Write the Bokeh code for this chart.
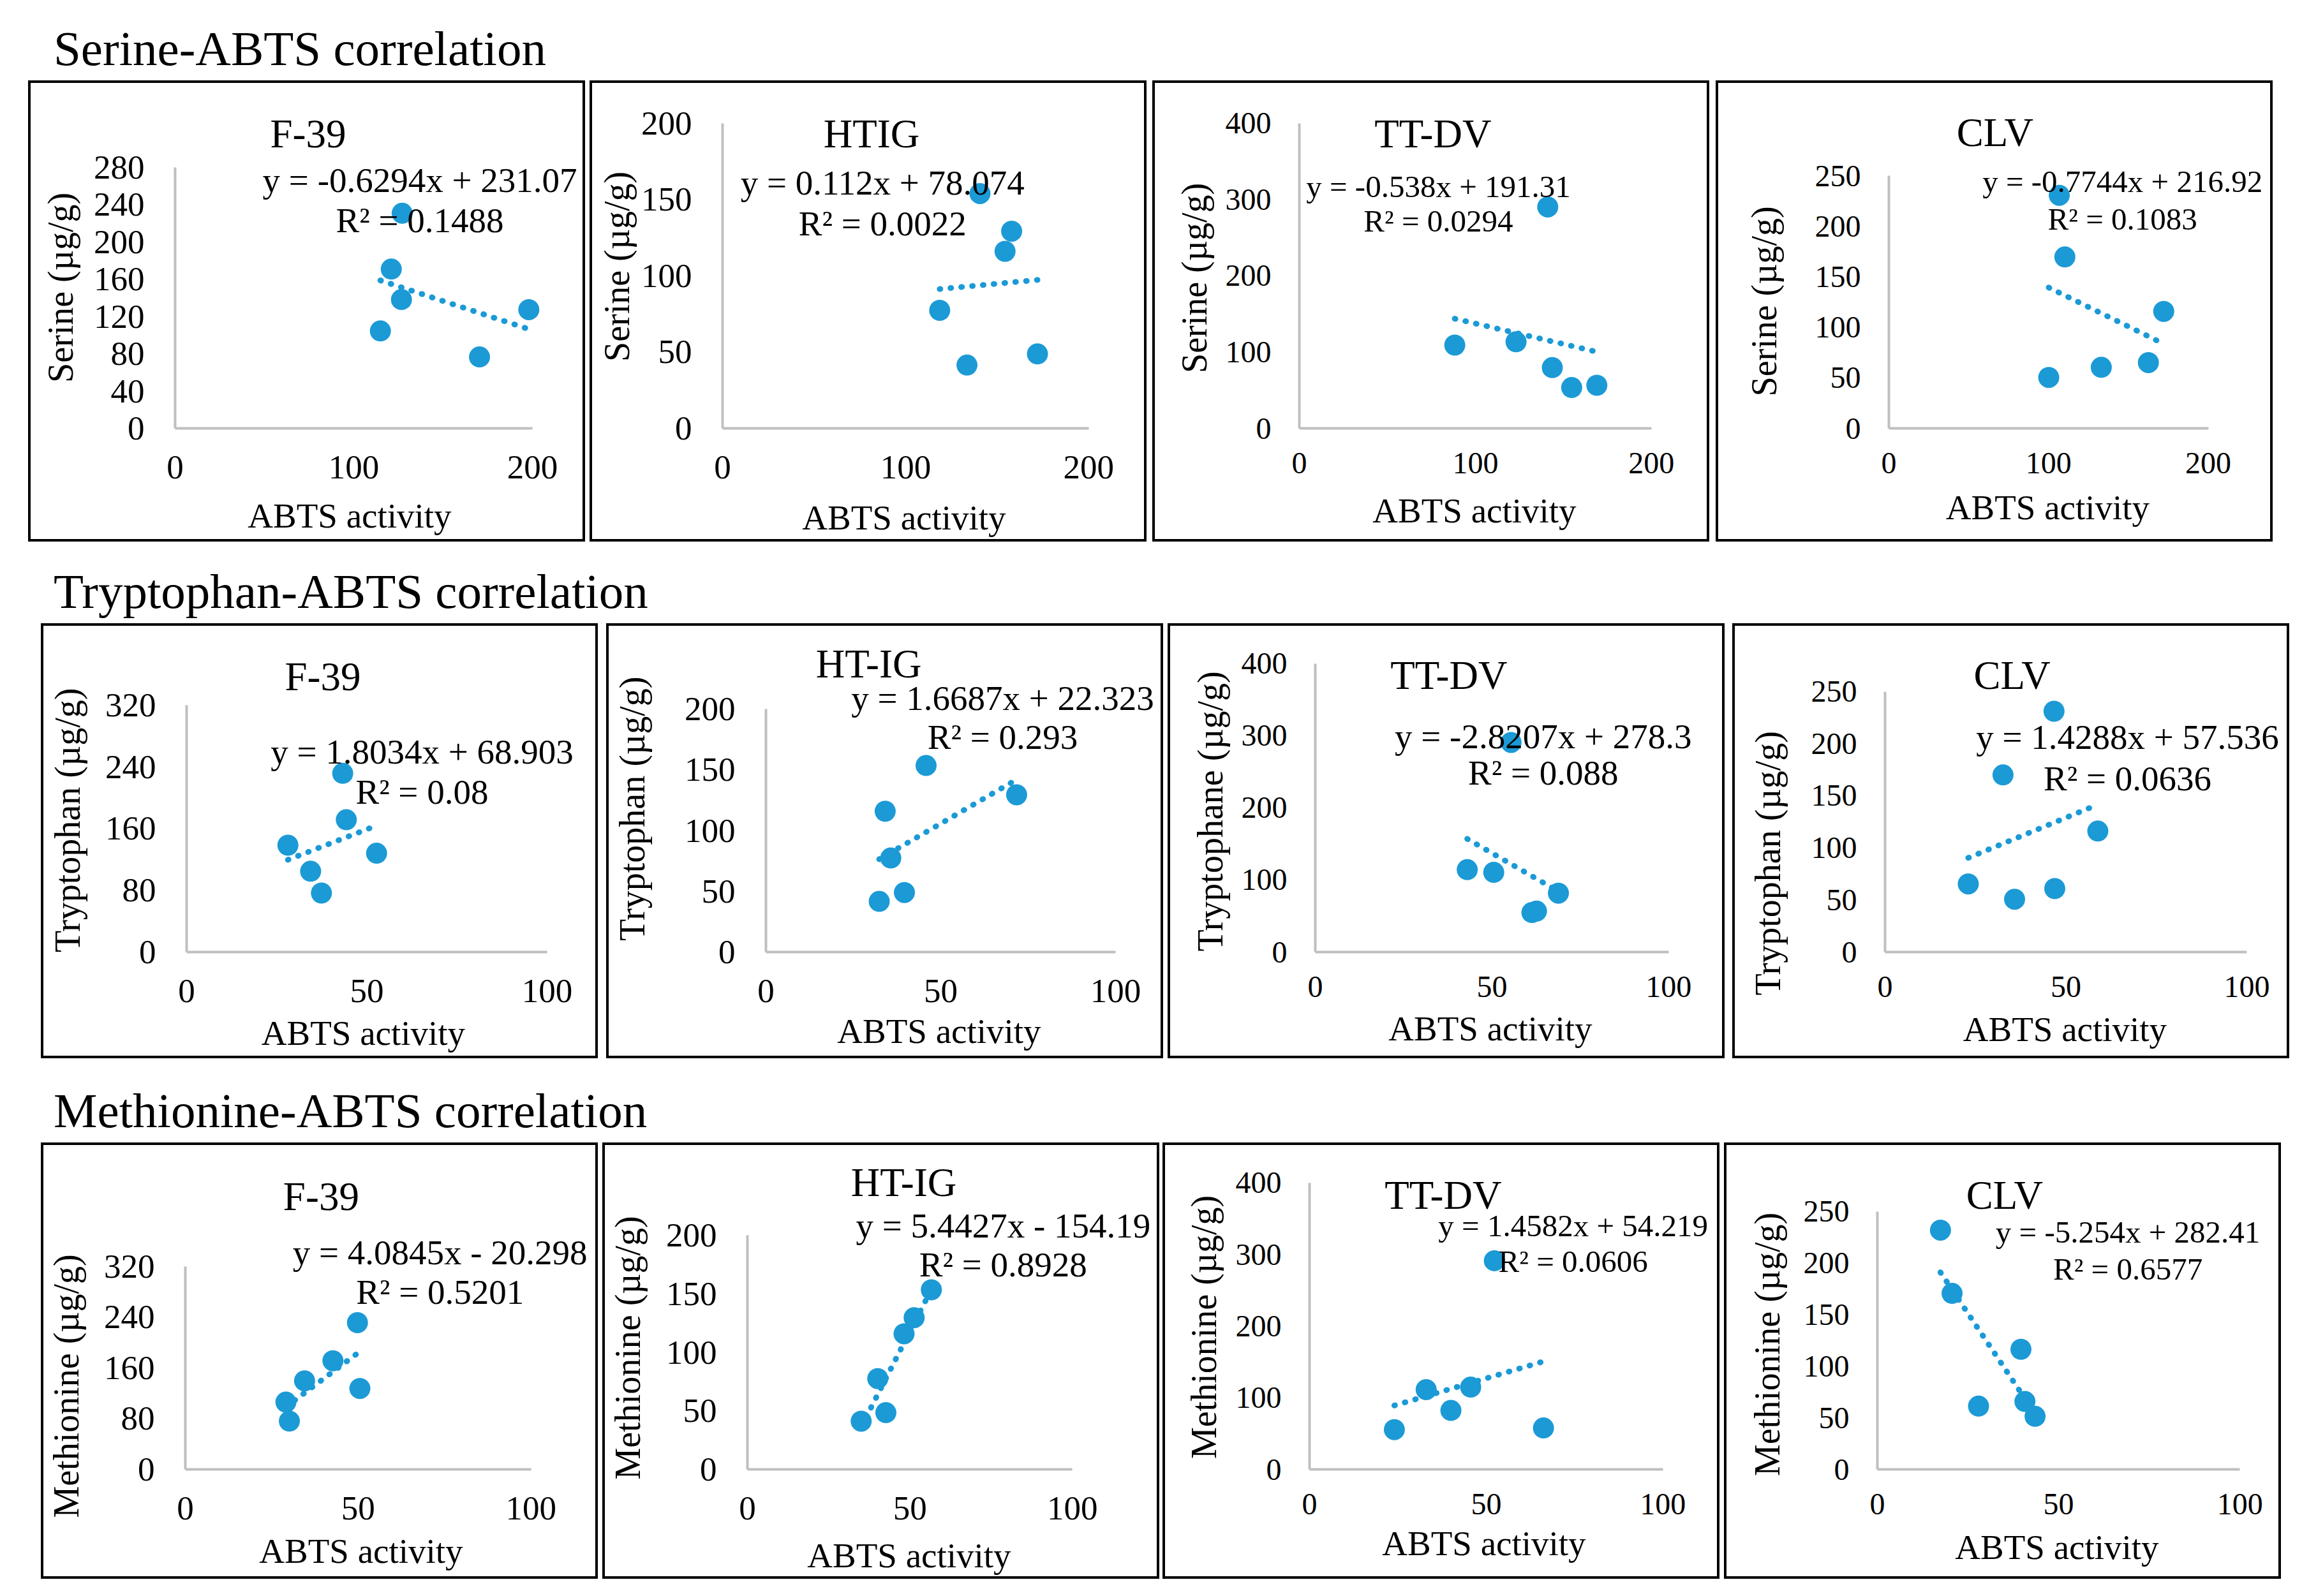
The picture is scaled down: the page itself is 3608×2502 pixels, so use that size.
from bokeh.plotting import figure
from bokeh.models import Range1d, FixedTicker, Label, Div, ColumnDataSource, Title
from bokeh.layouts import row, column
from bokeh.embed import file_html
from bokeh.resources import INLINE

FONT = "Liberation Serif"
BLUE = "#1B9AD6"
GREY = "#BFBFBF"

# ---------------- texts ----------------
row_titles = ["Serine-ABTS correlation", "Tryptophan-ABTS correlation", "Methionine-ABTS correlation"]
titles_row1 = ["F-39", "HTIG", "TT-DV", "CLV"]
titles_row23 = ["F-39", "HT-IG", "TT-DV", "CLV"]
x_title = "ABTS activity"
y_titles_row1 = ["Serine (µg/g)"] * 4
y_titles_row2 = ["Tryptophan (µg/g)", "Tryptophan (µg/g)", "Tryptophane (µg/g)", "Tryptophan (µg/g)"]
y_titles_row3 = ["Methionine (µg/g)"] * 4

# ---------------- Serine vs ABTS ----------------
ser_f39_abts = [127.1, 121.0, 126.7, 114.9, 170.4, 198.0]
ser_f39 = [230.8, 170.9, 138.2, 104.5, 76.6, 127.4]
ser_htig_abts = [140.6, 157.9, 154.3, 118.6, 133.5, 172.0]
ser_htig = [154.0, 129.3, 116.1, 77.4, 41.5, 48.8]
ser_ttdv_abts = [141.1, 88.3, 123.1, 143.7, 154.7, 169.0]
ser_ttdv = [290.4, 109.2, 113.5, 79.6, 53.5, 56.5]
ser_clv_abts = [106.7, 110.2, 100.1, 133.0, 162.5, 172.1]
ser_clv = [230.7, 169.7, 50.4, 60.4, 65.1, 115.8]

# ---------------- Tryptophan vs ABTS ----------------
trp_f39_abts = [43.3, 44.3, 28.1, 52.7, 34.4, 37.4]
trp_f39 = [231.6, 171.5, 138.5, 128.1, 104.7, 76.5]
trp_htig_abts = [45.8, 34.1, 71.7, 35.7, 39.6, 32.4]
trp_htig = [153.5, 115.9, 129.4, 77.4, 49.0, 41.7]
trp_ttdv_abts = [55.4, 43.0, 50.5, 68.8, 61.3, 62.6]
trp_ttdv = [290.7, 114.3, 110.5, 81.7, 54.8, 56.8]
trp_clv_abts = [46.7, 32.6, 58.8, 23.0, 35.8, 46.9]
trp_clv = [231.1, 170.0, 116.1, 65.4, 50.7, 60.9]

# ---------------- Methionine vs ABTS ----------------
met_f39_abts = [49.8, 42.7, 34.5, 50.5, 29.1, 30.1]
met_f39 = [231.4, 171.4, 139.7, 127.6, 106.1, 76.1]
met_htig_abts = [56.6, 51.3, 48.2, 40.1, 42.6, 35.0]
met_htig = [153.5, 129.7, 115.9, 77.6, 48.5, 41.2]
met_ttdv_abts = [52.3, 33.0, 45.6, 40.0, 24.0, 66.2]
met_ttdv = [291.3, 111.4, 114.8, 82.3, 55.5, 57.8]
met_clv_abts = [17.4, 20.6, 39.6, 40.7, 43.5, 27.9]
met_clv = [231.9, 170.6, 116.4, 65.8, 51.4, 61.3]

# ---------------- trendlines (as printed) ----------------
ser_slopes = [-0.6294, 0.112, -0.538, -0.7744]
ser_intercepts = [231.07, 78.074, 191.31, 216.92]
ser_r2 = ["0.1488", "0.0022", "0.0294", "0.1083"]
trp_slopes = [1.8034, 1.6687, -2.8207, 1.4288]
trp_intercepts = [68.903, 22.323, 278.3, 57.536]
trp_r2 = ["0.08", "0.293", "0.088", "0.0636"]
met_slopes = [4.0845, 5.4427, 1.4582, -5.254]
met_intercepts = [-20.298, -154.19, 54.219, 282.41]
met_r2 = ["0.5201", "0.8928", "0.0606", "0.6577"]

# ---------------- axis ticks ----------------
x_ticks_row1 = [0, 100, 200]
x_ticks_row23 = [0, 50, 100]
y_ticks_ser = [[0, 40, 80, 120, 160, 200, 240, 280], [0, 50, 100, 150, 200],
               [0, 100, 200, 300, 400], [0, 50, 100, 150, 200, 250]]
y_ticks_trp = [[0, 80, 160, 240, 320], [0, 50, 100, 150, 200],
               [0, 100, 200, 300, 400], [0, 50, 100, 150, 200, 250]]
y_ticks_met = [[0, 80, 160, 240, 320], [0, 50, 100, 150, 200],
               [0, 100, 200, 300, 400], [0, 50, 100, 150, 200, 250]]

# ---------------- layout ----------------
# l, r, t: canvas px offsets of the axes box (bottom border is shared per row)
# ys/xs: title gaps; dy/dx: title shifts; tfs: tick font px, efs: equation font px
# title(x,y) and eq(x, y1, y2) anchors in data units
lay = [
    [dict(l=226, r=86, t=130, ys=18, xs=25, dy=17, dx=-3, tfs=53, efs=55, tp=(74.5, 315.6), ep=(137, 266.5, 223)),
     dict(l=204, r=94, t=62, ys=4, xs=28, dy=16, dx=1, tfs=53, efs=55, tp=(81.4, 192.9), ep=(87.4, 160.9, 134.3)),
     dict(l=226, r=94, t=62, ys=15, xs=25, dy=-2, dx=2, tfs=48, efs=49, tp=(75.9, 386), ep=(79, 316.9, 271.9)),
     dict(l=267, r=104, t=143, ys=46, xs=20, dy=2, dx=2, tfs=48, efs=49, tp=(66.5, 292.6), ep=(146.3, 244.4, 207.3))],
    [dict(l=224, r=83, t=122, ys=25, xs=15, dy=15, dx=-2, tfs=53, efs=55, tp=(37.8, 357), ep=(65.3, 259.5, 207.9)),
     dict(l=246, r=78, t=128, ys=48, xs=12, dy=36, dx=1, tfs=53, efs=55, tp=(29.4, 236.9), ep=(67.7, 209.1, 177)),
     dict(l=227, r=91, t=58, ys=15, xs=16, dy=-3, dx=1, tfs=48, efs=55, tp=(37.8, 383.5), ep=(64.5, 299.1, 248.5)),
     dict(l=235, r=70, t=101, ys=34, xs=17, dy=-63, dx=2, tfs=48, efs=55, tp=(35.1, 265.5), ep=(67, 206.3, 166.3))],
    [dict(l=222, r=108, t=187, ys=25, xs=16, dy=-28, dx=8, tfs=53, efs=55, tp=(39.3, 430.6), ep=(73.7, 342.4, 279.8)),
     dict(l=223, r=139, t=139, ys=26, xs=23, dy=8, dx=2, tfs=53, efs=55, tp=(48.1, 245.3), ep=(78.7, 208.5, 175)),
     dict(l=226, r=92, t=58, ys=16, xs=12, dy=0, dx=0, tfs=48, efs=49, tp=(37.8, 382.8), ep=(74.6, 339.9, 290.1)),
     dict(l=236, r=68, t=102, ys=23, xs=18, dy=-5, dx=1, tfs=48, efs=49, tp=(35.1, 265.5), ep=(69.1, 229.7, 194.4))],
]
row_heights = [723, 682, 684]
row_bottom = [182, 171, 176]          # frames in one row share their bottom border
row_first_left = [44, 64, 64]
row_gaps = [[0, 7, 9, 10], [0, 13, 7, 12], [0, 7, 5, 7]]
BOX_W = 873
BW = 4
XT_FS, YT_FS = 55, 56

# Times/Liberation Serif advance widths (em) for centring the axis titles
EM = {" ": .25, "(": .333, ")": .333, "/": .278, "µ": .5, "A": .722, "B": .667, "T": .611, "S": .556,
      "M": .889, "a": .444, "c": .444, "e": .444, "g": .5, "h": .5, "i": .278, "n": .5, "o": .5,
      "p": .5, "r": .333, "t": .278, "v": .5, "y": .5}


def text_w(s, fs):
    return sum(EM.get(c, .5) for c in s) * fs


def eq_text(s, b):
    sign = "+" if b >= 0 else "-"
    return f"y = {s}x {sign} {abs(b)}"


def gap(size):
    # blank spacer between an axis and its title (a single space drawn in white)
    return Title(text=" ", text_font_size="1px", standoff=max(size - 3, 0),
                 text_color="white", text_font=FONT)


def make_panel(xs, ys, slope, intercept, r2, title, ytitle, xticks, yticks, L, box_h, b, left_margin):
    l, r, t = L["l"], L["r"], L["t"]
    cw, ch = BOX_W - 2 * BW, box_h - 2 * BW
    xmax, ymax = xticks[-1], yticks[-1]
    aw, ah = cw - l - r, ch - t - b
    sx, sy = aw / xmax, ah / ymax
    p = figure(width=BOX_W, height=box_h,
               x_range=Range1d(0, xmax + r / sx), y_range=Range1d(0, ymax + t / sy),
               output_backend="svg", toolbar_location=None,
               min_border_left=l, min_border_right=0, min_border_top=0, min_border_bottom=b,
               background_fill_color="white", border_fill_color="white",
               margin=(0, 0, 0, left_margin),
               styles={"border": f"{BW}px solid black"})
    p.grid.visible = False
    p.outline_line_color = None
    p.xaxis.ticker = FixedTicker(ticks=xticks)
    p.yaxis.ticker = FixedTicker(ticks=yticks)
    p.xaxis.bounds = (0, xmax)
    p.yaxis.bounds = (0, ymax)
    for ax in (p.xaxis[0], p.yaxis[0]):
        ax.axis_line_color = GREY
        ax.axis_line_width = 4
        ax.major_tick_line_color = None
        ax.minor_tick_line_color = None
        ax.major_tick_in = 0
        ax.major_tick_out = 0
        ax.major_label_text_font = FONT
        ax.major_label_text_font_size = f"{L['tfs']}px"
        ax.major_label_text_color = "black"
    big = L["tfs"] > 50
    p.xaxis.major_label_standoff = 43 if big else 38
    p.yaxis.major_label_standoff = 48 if big else 44

    # axis titles, centred on the drawn axis line (not on the whole frame)
    p.add_layout(gap(L["xs"]), "below")
    p.add_layout(Title(text=x_title, align="left", vertical_align="top",
                       offset=(aw - text_w(x_title, XT_FS)) / 2 + L["dx"], standoff=0,
                       text_font=FONT, text_font_size=f"{XT_FS}px", text_font_style="normal",
                       text_color="black"), "below")
    p.add_layout(gap(L["ys"]), "left")
    p.add_layout(Title(text=ytitle, align="left", vertical_align="bottom",
                       offset=(ah - text_w(ytitle, YT_FS)) / 2 + L["dy"], standoff=0,
                       text_font=FONT, text_font_size=f"{YT_FS}px", text_font_style="normal",
                       text_color="black"), "left")

    src = ColumnDataSource(dict(x=xs, y=ys))
    x0, x1 = min(xs), max(xs)
    p.line([x0, x1], [slope * x0 + intercept, slope * x1 + intercept],
           line_color=BLUE, line_width=9, line_dash="1 16", line_cap="round")
    p.scatter("x", "y", source=src, size=33, fill_color=BLUE, line_color=None)

    tp, ep = L["tp"], L["ep"]
    p.add_layout(Label(x=tp[0], y=tp[1], text=title, text_font=FONT, text_font_size="63px",
                       text_align="center", text_baseline="middle", text_color="black"))
    p.add_layout(Label(x=ep[0], y=ep[1], text=eq_text(slope, intercept), text_font=FONT,
                       text_font_size=f"{L['efs']}px", text_align="center", text_baseline="middle",
                       text_color="black"))
    p.add_layout(Label(x=ep[0], y=ep[2], text=f"R² = {r2}", text_font=FONT,
                       text_font_size=f"{L['efs']}px", text_align="center", text_baseline="middle",
                       text_color="black"))
    return p


rows_data = [
    ([ser_f39_abts, ser_htig_abts, ser_ttdv_abts, ser_clv_abts], [ser_f39, ser_htig, ser_ttdv, ser_clv],
     ser_slopes, ser_intercepts, ser_r2, titles_row1, y_titles_row1, x_ticks_row1, y_ticks_ser),
    ([trp_f39_abts, trp_htig_abts, trp_ttdv_abts, trp_clv_abts], [trp_f39, trp_htig, trp_ttdv, trp_clv],
     trp_slopes, trp_intercepts, trp_r2, titles_row23, y_titles_row2, x_ticks_row23, y_ticks_trp),
    ([met_f39_abts, met_htig_abts, met_ttdv_abts, met_clv_abts], [met_f39, met_htig, met_ttdv, met_clv],
     met_slopes, met_intercepts, met_r2, titles_row23, y_titles_row3, x_ticks_row23, y_ticks_met),
]

# row-title div margins: (top, bottom)
div_margins = [(37, 11), (39, 11), (43, 11)]

children = []
for ri, (xl, yl, sl, ic, r2, tt, yt, xt, ytk) in enumerate(rows_data):
    mt, mb = div_margins[ri]
    children.append(Div(text=row_titles[ri], width=3000, height=78, margin=(mt, 0, mb, 84),
                        styles={"font-family": "'Liberation Serif', serif", "font-size": "77px",
                                "line-height": "78px", "color": "black", "white-space": "nowrap"}))
    figs = []
    for ci in range(4):
        lm = row_first_left[ri] if ci == 0 else row_gaps[ri][ci]
        figs.append(make_panel(xl[ci], yl[ci], sl[ci], ic[ci], r2[ci], tt[ci], yt[ci], xt, ytk[ci],
                               lay[ri][ci], row_heights[ri], row_bottom[ri], lm))
    children.append(row(*figs, spacing=0))

page = column(*children, spacing=0)
open("out.html", "w").write(file_html(page, INLINE))
